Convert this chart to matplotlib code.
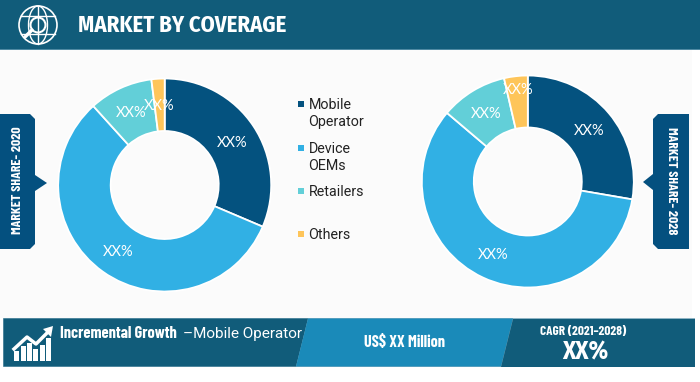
import numpy as np
import matplotlib
matplotlib.use("Agg")
import matplotlib.pyplot as plt
from matplotlib import font_manager as fm
from matplotlib.patches import Polygon, Circle, Rectangle, Ellipse

categories = ["Mobile\nOperator", "Device\nOEMs", "Retailers", "Others"]
share_2020 = [31.4, 56.9, 9.7, 2.0]
share_2028 = [27.7, 58.5, 10.2, 3.6]
slice_labels = ["XX%", "XX%", "XX%", "XX%"]
colors = ["#04527f", "#31b0e4", "#62cfd8", "#fec55a"]

DARK = "#115c7a"
MID = "#1a8ab9"
TAG = "#04507f"
W, H = 700, 382

# condensed faces with a static bold, plain Liberation Sans as a last resort
bold_faces = {f.name for f in fm.fontManager.ttflist if f.weight in (700, "bold") and "[" not in f.fname}
NARROW = "Fira Sans Condensed" if "Fira Sans Condensed" in bold_faces else "Liberation Sans"
TIGHT = "Barlow Condensed" if "Barlow Condensed" in bold_faces else NARROW

fig = plt.figure(figsize=(7.0, 3.82), dpi=100, facecolor="white")

# page layer in pixel coordinates
bg = fig.add_axes([0, 0, 1, 1])
bg.set_xlim(0, W)
bg.set_ylim(H, 0)
bg.axis("off")

bg.add_patch(Rectangle((0, 50), 692, 268, color="#fbfbfb", lw=0))
bg.add_patch(Rectangle((0, 0), W, 49, color=DARK, lw=0))
bg.add_patch(Rectangle((0, 49), W, 1, color="#4f8aa3", lw=0))

# header icon: globe with magnifier
bg.add_patch(Circle((38, 25), 19, fc="none", ec="white", lw=1.2))
bg.add_patch(Ellipse((38, 25), 19, 38, fc="none", ec="white", lw=1))
bg.plot([38, 38], [6, 44], color="white", lw=1)
bg.plot([21, 55], [16, 16], color="white", lw=1)
bg.plot([21, 55], [34, 34], color="white", lw=1)
bg.add_patch(Circle((38, 25), 7.5, fc=DARK, ec="white", lw=1.5))
bg.plot([32, 25], [30, 37], color="white", lw=2.5, solid_capstyle="round")
bg.text(78, 25.5, "MARKET BY COVERAGE", color="white", fontsize=16.3,
        family=NARROW, weight="bold", va="center", ha="left")

# side tags
bg.add_patch(Polygon([(0, 114), (30, 114), (35, 119), (35, 175), (47, 183), (35, 191),
                      (35, 244), (30, 249), (0, 249)], fc=TAG, lw=0))
bg.add_patch(Polygon([(689, 114), (658, 114), (653, 119), (653, 174), (643, 182), (653, 190),
                      (653, 244), (658, 249), (689, 249)], fc=TAG, lw=0))
bg.text(18, 180.5, "MARKET SHARE- 2020", color="white", fontsize=10, family=TIGHT,
        weight="bold", rotation=90, ha="center", va="center")
bg.text(671, 181, "MARKET SHARE- 2028", color="white", fontsize=10, family=TIGHT,
        weight="bold", rotation=270, ha="center", va="center")

# footer band
bg.add_patch(Rectangle((3, 318), 692, 49, color="#8fb4c4", lw=0))
bg.add_patch(Polygon([(3.5, 318.5), (308, 318.5), (296, 366.5), (3.5, 366.5)], fc=DARK, lw=0))
bg.add_patch(Polygon([(308, 318.5), (513, 318.5), (501, 366.5), (296, 366.5)], fc=MID, lw=0))
bg.add_patch(Polygon([(513, 318.5), (694.5, 318.5), (694.5, 366.5), (501, 366.5)], fc=DARK, lw=0))

# footer icon: rising bars and arrow
for bx, top in zip([14, 20.5, 27, 33, 39.5, 46], [351, 346, 343, 349, 345, 338]):
    bg.add_patch(Rectangle((bx, top), 5, 361 - top, color="white", lw=0))
bg.plot([14, 27, 36, 49], [349, 337, 344, 331], color="white", lw=2.5)
bg.add_patch(Polygon([(53, 326), (43, 329), (51, 337)], fc="white", lw=0))

bg.text(60, 334, "Incremental Growth", color="white", fontsize=11.8, family=TIGHT,
        weight="bold", va="center", ha="left")
bg.text(183, 334, "–Mobile Operator", color="white", fontsize=11, family="Roboto",
        va="center", ha="left")
bg.text(404.5, 343, "US$ XX Million", color="white", fontsize=11.7, family=TIGHT,
        weight="bold", va="center", ha="center")
bg.text(583, 331, "CAGR (2021–2028)", color="white", fontsize=9.5, family=TIGHT,
        weight="bold", va="center", ha="center")
bg.text(585, 352, "XX%", color="white", fontsize=18, family=NARROW,
        weight="bold", va="center", ha="center")

# legend
legend_rows = [(104, 104.7, categories[0]), (148, 148.7, categories[1]),
               (191, 191.7, categories[2]), (234, 234.7, categories[3])]
for (my, ty, label), c in zip(legend_rows, colors):
    bg.add_patch(Rectangle((298, my - 3), 6, 6, color=c, lw=0))
    for k, line in enumerate(label.split("\n")):
        bg.text(308.5, ty + 17 * k, line, color="#222222", fontsize=10.3, family="Roboto",
                va="center", ha="left")


def donut(values, cx, cy, r, hole):
    # axes box sized so the pie fills it: radius r px around (cx, cy)
    ax = fig.add_axes([(cx - r) / W, 1 - (cy + r) / H, 2 * r / W, 2 * r / H])
    ax.pie(values, colors=colors, startangle=90, counterclock=False, radius=1.0,
           wedgeprops=dict(width=1 - hole / r, edgecolor="white", linewidth=1.3))
    ax.set_xlim(-1, 1)
    ax.set_ylim(-1, 1)
    ax.set_aspect("equal")
    ax.patch.set_alpha(0)


donut(share_2020, 164.7, 185, 106.5, 54)
donut(share_2028, 527.8, 181.5, 106, 54)

# slice labels sit on top of both donuts
top = fig.add_axes([0, 0, 1, 1])
top.set_xlim(0, W)
top.set_ylim(H, 0)
top.axis("off")
top.patch.set_alpha(0)
pos_2020 = [(232, 142.7), (118, 251.7), (131.5, 113.2), (159.5, 105.7)]
pos_2028 = [(589.5, 130.7), (493, 254.7), (486.5, 113.7), (518, 89.7)]
for (x, y), s in zip(pos_2020 + pos_2028, slice_labels + slice_labels):
    top.text(x, y, s, color="white", fontsize=10.5, family="Lato", ha="center", va="center")

fig.savefig("out.png", dpi=100, facecolor=fig.get_facecolor())
